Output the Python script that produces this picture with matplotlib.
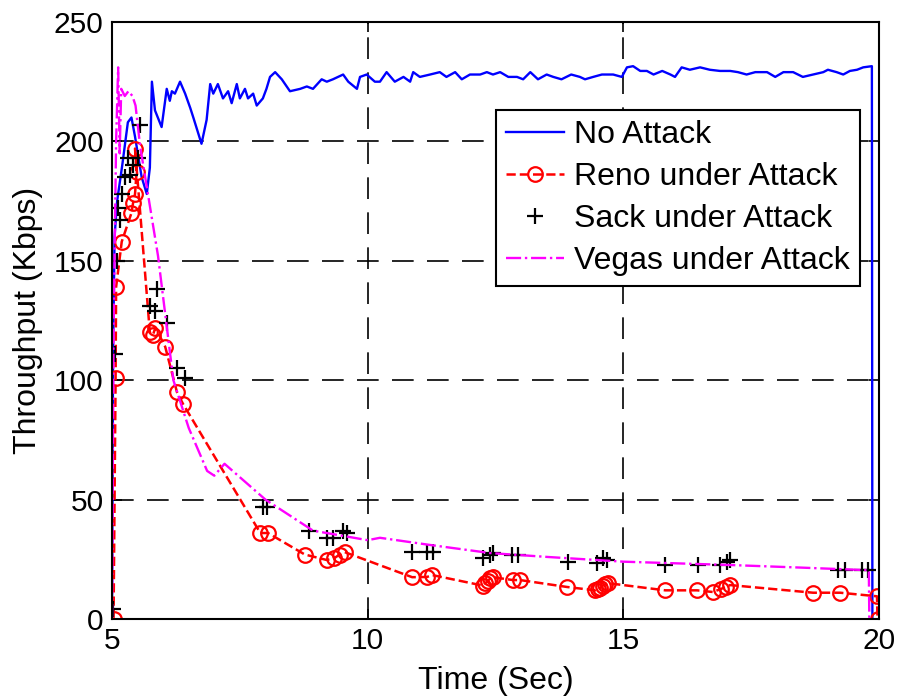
import numpy as np
import matplotlib
matplotlib.use('Agg')
import matplotlib.pyplot as plt

plt.rcParams['font.family'] = ['Liberation Sans', 'DejaVu Sans']

# No Attack (blue solid line)
t_none = [5.0, 5.02, 5.05, 5.1, 5.2, 5.31, 5.38, 5.45, 5.58, 5.68, 5.74, 5.78,
          5.84, 5.97, 6.07, 6.13, 6.17, 6.23, 6.33, 6.43, 6.53, 6.59, 6.75, 6.85,
          6.92, 6.98, 7.07, 7.17, 7.27, 7.34, 7.44, 7.5, 7.6, 7.66, 7.76, 7.83,
          7.95, 8.02, 8.09, 8.19, 8.32, 8.48, 8.68, 8.81, 8.93, 9.1, 9.2, 9.32,
          9.52, 9.62, 9.79, 9.85, 9.98, 10.14, 10.24, 10.37, 10.53, 10.7, 10.83,
          10.89, 11.02, 11.22, 11.41, 11.54, 11.71, 11.84, 12.0, 12.2, 12.33,
          12.45, 12.59, 12.75, 12.92, 13.04, 13.18, 13.33, 13.5, 13.63, 13.79,
          13.98, 14.15, 14.25, 14.41, 14.58, 14.8, 14.97, 15.07, 15.19, 15.33,
          15.46, 15.59, 15.76, 15.92, 16.01, 16.14, 16.3, 16.5, 16.69, 16.89,
          17.09, 17.24, 17.41, 17.58, 17.81, 17.97, 18.13, 18.32, 18.51, 18.71,
          18.91, 19.0, 19.17, 19.3, 19.43, 19.57, 19.69, 19.86, 19.87]
y_none = [0, 110, 160, 175, 190, 208, 210, 202, 185, 178, 189, 225,
          213, 206, 222, 217, 221, 220, 225, 220, 214, 210, 199, 209,
          224, 220, 224, 218, 221, 216, 224, 218, 222, 218, 220, 215,
          218, 222, 227, 229, 226, 221, 222, 223, 222, 226, 225, 226,
          228, 225, 222, 227, 228, 225, 225, 229, 225, 227, 225,
          229, 227, 228, 229, 227, 229, 226, 228, 228, 229,
          228, 229, 227, 227, 226, 229, 226, 228, 227, 226,
          228, 227, 226, 227, 228, 228, 227, 231, 231.5, 229.5,
          229.5, 228, 229.5, 228, 227, 231, 230, 231, 230, 229.5,
          229.5, 229, 228, 229, 229, 227, 229, 229, 227, 228,
          229, 230, 229, 228, 229.5, 230, 231, 231.5, 0]

# Reno under Attack (red dashed, circles)
t_reno = [5.03, 5.07, 5.08, 5.19, 5.38, 5.41, 5.45, 5.48, 5.45, 5.74, 5.8, 5.85,
          6.04, 6.27, 6.39, 7.9, 8.05, 8.77, 9.2, 9.35, 9.45, 9.55, 10.87,
          11.16, 11.26, 12.25, 12.3, 12.35, 12.4, 12.45, 12.84, 12.98, 13.9,
          14.45, 14.5, 14.55, 14.6, 14.65, 14.7, 15.82, 16.44, 16.75, 16.9,
          17.0, 17.09, 18.71, 19.24, 19.96, 19.97]
y_reno = [0, 101, 139, 158, 170, 174, 178, 187, 197, 120, 119, 122,
          114, 95, 90, 36, 36, 27, 24.7, 25.5, 27, 28, 17.5,
          17.6, 18.4, 14, 15, 16, 17, 17.5, 16.3, 16.3, 13.4,
          12, 12.5, 13, 14, 14.5, 15, 12, 12, 11.3, 12.5,
          13.4, 14.2, 11, 11, 9.5, 0]

# Sack under Attack (black plus markers only)
t_sack = [5.02, 5.06, 5.1, 5.16, 5.12, 5.19, 5.25, 5.31, 5.35, 5.41, 5.51, 5.55,
          5.74, 5.84, 5.88, 6.07, 6.27, 6.43, 7.95, 8.03, 8.85, 9.2, 9.32,
          9.52, 9.6, 10.87, 11.16, 11.28, 12.26, 12.4, 12.45, 12.82, 12.94,
          13.92, 14.48, 14.6, 14.68, 15.82, 16.46, 16.89, 17.02, 17.09, 19.2,
          19.34, 19.67, 19.79]
y_sack = [4, 111, 150, 167, 172, 178, 185, 193, 186, 190, 193, 207,
          131, 129, 138, 124, 105, 101, 47, 47, 37, 34, 34,
          37, 36, 28, 28, 28, 25.5, 27, 27.6, 27, 27,
          24, 23.4, 25.5, 24.7, 22.6, 22.6, 22.6, 24, 24.7, 20.5,
          20.5, 20.5, 20.5]

# Vegas under Attack (magenta dash-dot)
t_vegas = [5.0, 5.03, 5.08, 5.12, 5.15, 5.18, 5.25, 5.32, 5.4, 5.46, 5.55, 5.9,
           6.2, 6.5, 6.86, 7.0, 7.2, 8.0, 8.93, 10.0, 10.24, 11.22, 12.4, 13.5,
           15.0, 17.09, 18.5, 19.7, 19.8, 19.81]
y_vegas = [0, 120, 200, 231, 195, 222, 219, 221, 219, 215, 198, 152,
           100, 80, 62, 60, 65, 50, 37, 33, 34, 31, 27.6, 26,
           24, 22.6, 21.5, 20.5, 20.5, 0]

fig = plt.figure(figsize=(8.99, 6.98), dpi=100)
ax = fig.add_axes([0.1246, 0.1132, 0.8532, 0.8553])

ax.plot(t_none, y_none, '-', color='#0000ff', lw=1.7, label='No Attack')
ax.plot(t_reno, y_reno, '--', color='#ff0000', lw=1.8, marker='o', ms=10.5,
        mfc='none', mew=1.6, label='Reno under Attack')
ax.plot(t_sack, y_sack, 'k+', ms=11, mew=1.6, label='Sack under Attack')
ax.plot(t_vegas, y_vegas, '-.', color='#ff00ff', lw=1.7, label='Vegas under Attack')

ax.set_xlim(5, 20)
ax.set_ylim(0, 250)
ax.set_xticks([5, 10, 15, 20])
ax.set_yticks([0, 50, 100, 150, 200, 250])
ax.grid(True, color='black', linestyle=(0, (13, 8)), lw=1.2)
ax.tick_params(direction='in', length=7, width=1.2, top=True, right=True,
               labelsize=21.5, pad=6)
for s in ax.spines.values():
    s.set_linewidth(1.5)

ax.set_xlabel('Time (Sec)', fontsize=23, labelpad=8)
ax.set_ylabel('Throughput (Kbps)', fontsize=23, labelpad=8)

leg = ax.legend(loc='upper right', bbox_to_anchor=(0.975, 0.853), fontsize=23,
                fancybox=False, edgecolor='black', framealpha=1,
                handlelength=1.8, handletextpad=0.3, labelspacing=0.37,
                borderaxespad=0, borderpad=0.33)
leg.get_frame().set_linewidth(1.5)

fig.savefig('out.png', dpi=100)
